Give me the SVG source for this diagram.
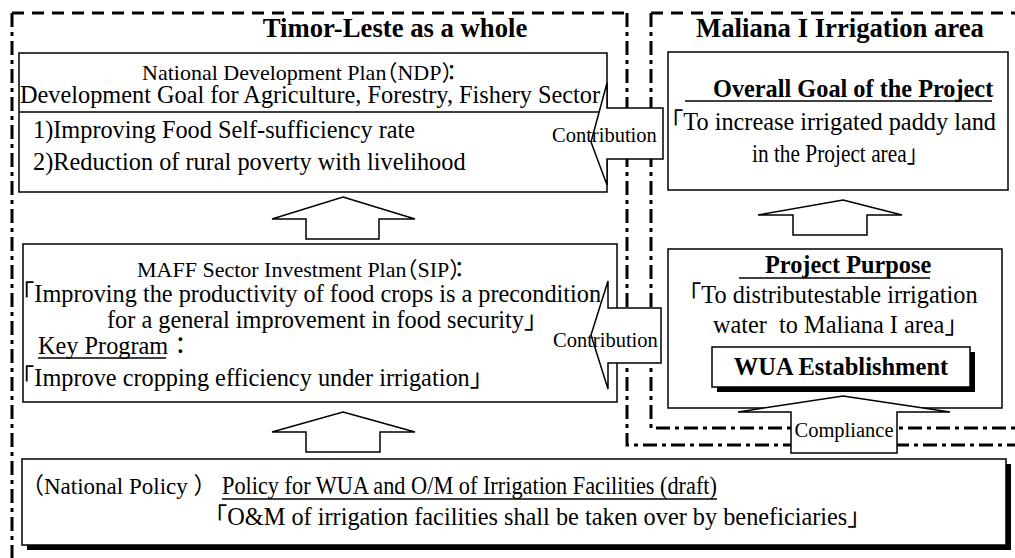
<svg xmlns="http://www.w3.org/2000/svg" width="1015" height="558" viewBox="0 0 1015 558">
<style>
.t{font-family:"Liberation Serif","Times New Roman","Noto Sans CJK JP",serif;font-size:24.3px;fill:#000}
.h{font-size:22px}
.j{font-family:"Noto Sans CJK JP",sans-serif}
.b{font-weight:bold;font-size:26.7px}
.b2{font-weight:bold;font-size:24.3px}
.s{font-size:20.5px}
.box{fill:#fff;stroke:#000;stroke-width:1.5}
.sh{fill:#000}
.arr{fill:#fff;stroke:#000;stroke-width:1.5;stroke-linejoin:miter}
.dash{fill:none;stroke:#000;stroke-width:3;stroke-dasharray:12 8}
.dd{fill:none;stroke:#000;stroke-width:3;stroke-dasharray:14 5 4 5}
.ul{stroke:#000;stroke-width:1.5}
</style>
<rect width="1015" height="558" fill="#fff"/>
<g id="frames">
<path class="dash" d="M12,13 H627"/>
<path class="dd" d="M12,13 V558"/>
<path class="dd" d="M627,13 V445 H1015"/>
<path class="dash" d="M651,13 H1015"/>
<path class="dd" d="M651,13 V428 H1015"/>
<text class="t b" x="395" y="37" text-anchor="middle">Timor-Leste as a whole</text>
<text class="t b" x="840" y="37" text-anchor="middle">Maliana I Irrigation area</text>
</g>
<g id="ndp">
<rect class="box" x="19" y="53" width="588" height="139"/>
<text class="t h" x="142" y="80">National Development Plan<tspan class="j" dx="-11">（</tspan>NDP<tspan class="j">）</tspan><tspan class="j" dx="-12">：</tspan></text>
<text class="t" x="20" y="103">Development Goal for Agriculture, Forestry, Fishery Sector</text>
<line class="ul" x1="20" y1="112" x2="607" y2="112"/>
<text class="t" x="33" y="138">1)Improving Food Self-sufficiency rate</text>
<text class="t" x="33" y="170">2)Reduction of rural poverty with livelihood</text>
</g>
<g id="sip">
<rect class="box" x="23" y="244" width="594" height="158"/>
<text class="t h" x="137" y="277">MAFF Sector Investment Plan<tspan class="j" dx="-11">（</tspan>SIP<tspan class="j">）</tspan><tspan class="j" dx="-12">：</tspan></text>
<text class="t" x="10" y="302"><tspan class="j">「</tspan>Improving the productivity of food crops is a precondition</text>
<text class="t" x="107" y="328">for a general improvement in food security<tspan class="j">」</tspan></text>
<text class="t" x="38" y="354">Key Program<tspan class="j">：</tspan></text>
<line class="ul" x1="38" y1="358" x2="166" y2="358"/>
<text class="t" x="10" y="386"><tspan class="j">「</tspan>Improve cropping efficiency under irrigation<tspan class="j">」</tspan></text>
</g>
<g id="policy">
<rect class="sh" x="27" y="464" width="984" height="86"/>
<rect class="box" x="22" y="459" width="984" height="86"/>
<text class="t" x="21" y="494" style="font-size:23px"><tspan class="j">（</tspan>National Policy <tspan class="j">）</tspan></text>
<text class="t" x="222" y="494" textLength="495" lengthAdjust="spacingAndGlyphs">Policy for WUA and O/M of Irrigation Facilities (draft)</text>
<line class="ul" x1="222" y1="499" x2="717" y2="499"/>
<text class="t" x="203" y="525"><tspan class="j">「</tspan>O&amp;M of irrigation facilities shall be taken over by beneficiaries<tspan class="j">」</tspan></text>
</g>
<g id="goal">
<rect class="box" x="668" y="52" width="340" height="138"/>
<text class="t b2" x="713" y="97">Overall Goal of the Project</text>
<line class="ul" x1="685" y1="101" x2="992" y2="101"/>
<text class="t" x="659" y="130"><tspan class="j">「</tspan>To increase irrigated paddy land</text>
<text class="t" x="752" y="162" textLength="176" lengthAdjust="spacingAndGlyphs">in the Project area」</text>
</g>
<g id="purpose">
<rect class="box" x="668" y="249" width="334" height="159"/>
<text class="t b2" x="765" y="273">Project Purpose</text>
<line class="ul" x1="739" y1="278" x2="930" y2="278"/>
<text class="t" x="677" y="303"><tspan class="j">「</tspan>To distributestable irrigation</text>
<text class="t" x="713" y="333" xml:space="preserve">water  to Maliana I area<tspan class="j">」</tspan></text>
</g>
<g id="wua">
<rect class="sh" x="717" y="352" width="258" height="40"/>
<rect class="box" x="712" y="347" width="258" height="40"/>
<text class="t b2" x="841" y="375" text-anchor="middle" style="font-size:24.5px">WUA Establishment</text>
</g>
<g id="connectors">
<polygon class="arr" points="343,197 415,219 379,219 379,239 306,239 306,219 272,219"/>
<polygon class="arr" points="343,412 415,432 380,432 380,452 306,452 306,432 272,432"/>
<polygon class="arr" points="843,200 902,215 867,215 867,235 793,235 793,215 758,215"/>
<polygon class="arr" points="843,396 950,412 897,412 897,453 791,453 791,412 738,412"/>
<text class="t s" x="844" y="437" text-anchor="middle">Compliance</text>
<polygon class="arr" points="663,108 607,108 607,83 591,142 607,185 607,159 663,159"/>
<text class="t s" x="552" y="142">Contribution</text>
<polygon class="arr" points="661,308 608,308 608,281 591,335 608,389 608,363 661,363"/>
<text class="t s" x="553" y="347">Contribution</text>
</g>
</svg>
